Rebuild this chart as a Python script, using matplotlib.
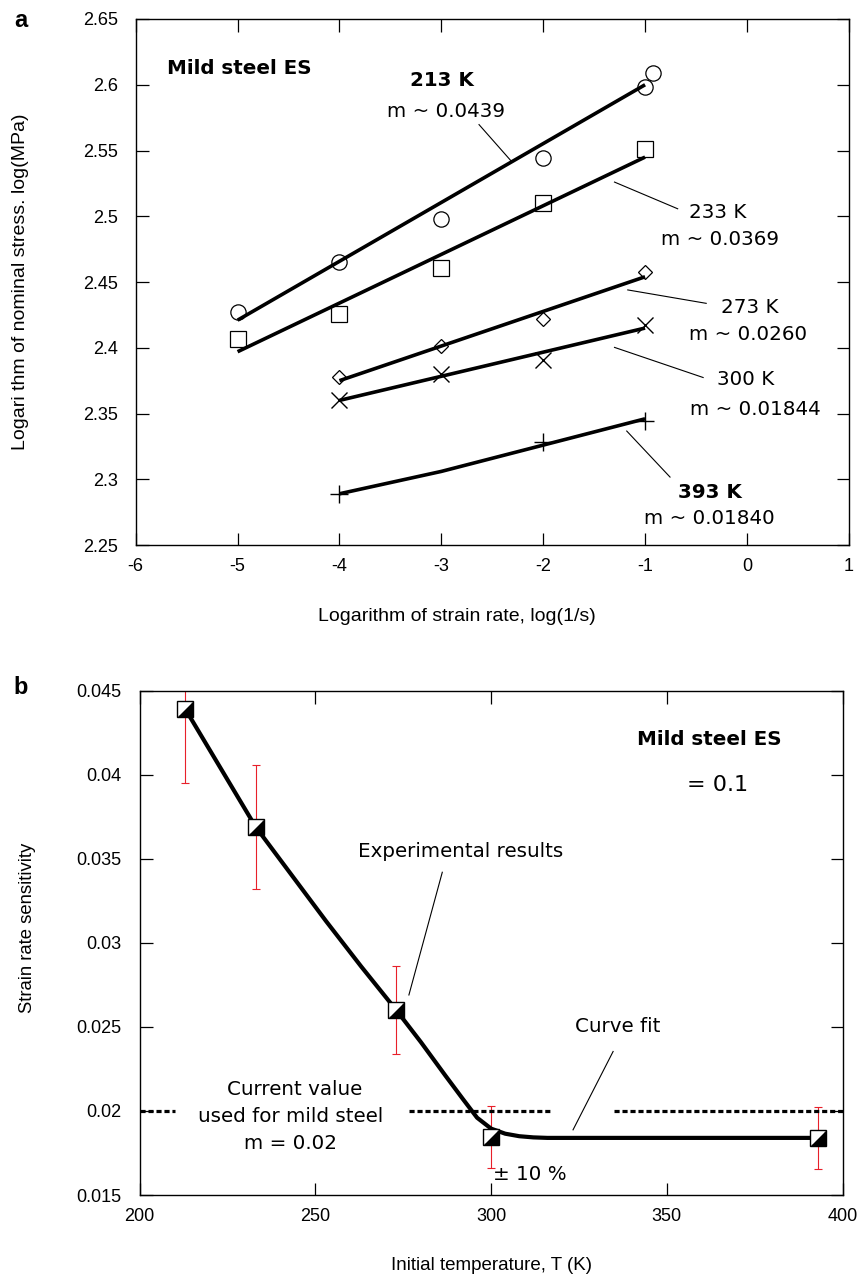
import matplotlib
matplotlib.use("Agg")
from matplotlib import pyplot as plt

plt.rcParams['font.family'] = ['Liberation Sans', 'DejaVu Sans']
plt.rcParams['axes.unicode_minus'] = False
ANN = ['DejaVu Sans']
ANN_SIZE = 14.3

# ---- panel a: log stress vs log strain rate ----
rate_213 = [-5, -4, -3, -2, -1, -0.92]
stress_213 = [2.427, 2.465, 2.498, 2.544, 2.598, 2.609]
rate_233 = [-5, -4, -3, -2, -1]
stress_233 = [2.407, 2.426, 2.461, 2.510, 2.551]
rate_273 = [-4, -3, -2, -1]
stress_273 = [2.378, 2.401, 2.422, 2.458]
rate_300 = [-4, -3, -2, -1]
stress_300 = [2.360, 2.380, 2.391, 2.417]
rate_393 = [-4, -2, -1]
stress_393 = [2.289, 2.328, 2.344]

# fitted lines (end points)
fit_213 = ([-5, -1], [2.421, 2.600])
fit_233 = ([-5, -1], [2.397, 2.545])
fit_273 = ([-4, -1], [2.375, 2.454])
fit_300 = ([-4, -1], [2.360, 2.415])
fit_393 = ([-4, -3, -1], [2.289, 2.306, 2.346])

# ---- panel b: strain rate sensitivity vs temperature ----
temps = [213, 233, 273, 300, 393]
m_vals = [0.0439, 0.0369, 0.0260, 0.01844, 0.0184]
m_err = [0.1 * m for m in m_vals]

curve_T = [213, 223, 233, 243, 253, 263, 273, 280, 287, 292, 296, 300, 304,
           308, 312, 316, 393]
curve_m = [0.0439, 0.0404, 0.0369, 0.0341, 0.0313, 0.0286, 0.0260, 0.0241,
           0.0221, 0.0207, 0.0196, 0.01895, 0.01865, 0.01850, 0.01843,
           0.01840, 0.01840]

current_segments = [(200, 210), (276.5, 317), (335, 400)]
current_value = 0.02

fig = plt.figure(figsize=(8.6, 12.75), dpi=100)

ax1 = fig.add_axes([0.1578, 0.5725, 0.8292, 0.4126])
ax1.plot(rate_213, stress_213, 'o', mfc='white', mec='black', ms=11, mew=0.9)
ax1.plot(rate_233, stress_233, 's', mfc='white', mec='black', ms=11, mew=0.9)
ax1.plot(rate_273, stress_273, 'D', mfc='white', mec='black', ms=7.5, mew=0.9)
ax1.plot(rate_300, stress_300, 'x', color='black', ms=11, mew=1.0)
ax1.plot(rate_393, stress_393, '+', color='black', ms=13, mew=1.0)
for fx, fy in [fit_213, fit_233, fit_273, fit_300, fit_393]:
    ax1.plot(fx, fy, color='black', lw=2.6, solid_capstyle='butt')

ax1.set_xlim(-6, 1)
ax1.set_ylim(2.25, 2.65)
ax1.set_xticks([-6, -5, -4, -3, -2, -1, 0, 1])
ax1.set_yticks([2.25, 2.3, 2.35, 2.4, 2.45, 2.5, 2.55, 2.6, 2.65])
ax1.set_yticklabels(['2.25', '2.3', '2.35', '2.4', '2.45', '2.5', '2.55', '2.6', '2.65'])
ax1.set_xlabel("Logarithm of strain rate, log(1/s)", fontsize=14)
ax1.xaxis.set_label_coords(0.45, -0.12)
ax1.set_ylabel("Logari thm of nominal stress. log(MPa)", fontsize=14)
ax1.yaxis.set_label_coords(-0.15, 0.5)

ax1.text(-5.69, 2.6124, "Mild steel ES", family=ANN, weight='bold',
         fontsize=ANN_SIZE, ha='left', va='center')
ax1.text(-2.99, 2.6035, "213 K", family=ANN, weight='bold', fontsize=ANN_SIZE,
         ha='center', va='center')
ax1.text(-2.95, 2.5793, "m ~ 0.0439", family=ANN, fontsize=ANN_SIZE,
         ha='center', va='center')
ax1.plot([-2.63, -2.32], [2.5697, 2.5425], color='black', lw=0.8)
ax1.text(-0.29, 2.5031, "233 K", family=ANN, fontsize=ANN_SIZE, ha='center', va='center')
ax1.text(-0.265, 2.4821, "m ~ 0.0369", family=ANN, fontsize=ANN_SIZE, ha='center', va='center')
ax1.plot([-1.30, -0.68], [2.526, 2.5057], color='black', lw=0.8)
ax1.text(0.03, 2.4307, "273 K", family=ANN, fontsize=ANN_SIZE, ha='center', va='center')
ax1.text(0.01, 2.4104, "m ~ 0.0260", family=ANN, fontsize=ANN_SIZE, ha='center', va='center')
ax1.plot([-1.17, -0.40], [2.444, 2.4338], color='black', lw=0.8)
ax1.text(-0.01, 2.3761, "300 K", family=ANN, fontsize=ANN_SIZE, ha='center', va='center')
ax1.text(0.08, 2.3533, "m ~ 0.01844", family=ANN, fontsize=ANN_SIZE, ha='center', va='center')
ax1.plot([-1.30, -0.43], [2.4003, 2.3774], color='black', lw=0.8)
ax1.text(-0.36, 2.2901, "393 K", family=ANN, weight='bold', fontsize=ANN_SIZE,
         ha='center', va='center')
ax1.text(-0.37, 2.270, "m ~ 0.01840", family=ANN, fontsize=ANN_SIZE, ha='center', va='center')
ax1.plot([-1.18, -0.755], [2.3367, 2.3017], color='black', lw=0.8)

ax2 = fig.add_axes([0.1624, 0.0627, 0.8174, 0.3956])
ax2.errorbar(temps, m_vals, yerr=m_err, fmt='none', ecolor='#e8202a',
             elinewidth=0.8, capsize=3, capthick=0.8, zorder=1)
ax2.plot(curve_T, curve_m, color='black', lw=3, zorder=2)
for x0, x1 in current_segments:
    ax2.plot([x0, x1], [current_value, current_value], color='black', lw=2.3,
             linestyle=(0, (1.6, 0.9)), dash_capstyle='butt', zorder=2)
ax2.plot(temps, m_vals, 's', mfc='white', mec='black', ms=11.5, mew=1.0, zorder=3)
ax2.plot(temps, m_vals, marker=[(-1, -1), (1, -1), (1, 1)], ls='none',
         color='black', ms=10, zorder=4)

ax2.set_xlim(200, 400)
ax2.set_ylim(0.015, 0.045)
ax2.set_xticks([200, 250, 300, 350, 400])
ax2.set_yticks([0.015, 0.02, 0.025, 0.03, 0.035, 0.04, 0.045])
ax2.set_yticklabels(['0.015', '0.02', '0.025', '0.03', '0.035', '0.04', '0.045'])
ax2.set_xlabel("Initial temperature, T (K)", fontsize=13.5)
ax2.xaxis.set_label_coords(0.5, -0.123)
ax2.set_ylabel("Strain rate sensitivity", fontsize=13.3)
ax2.yaxis.set_label_coords(-0.148, 0.53)

ax2.text(362.2, 0.04211, "Mild steel ES", family=ANN, weight='bold',
         fontsize=ANN_SIZE, ha='center', va='center')
ax2.text(355.6, 0.03939, "= 0.1", family=ANN, fontsize=16, ha='left', va='center')
ax2.text(291.2, 0.03543, "Experimental results", family=ANN, fontsize=ANN_SIZE,
         ha='center', va='center')
ax2.plot([286.1, 276.6], [0.0342, 0.0269], color='black', lw=0.8)
ax2.text(336.1, 0.0250, "Curve fit", family=ANN, fontsize=ANN_SIZE, ha='center', va='center')
ax2.plot([334.7, 323.3], [0.02354, 0.01888], color='black', lw=0.8)
ax2.text(244.0, 0.02126, "Current value", family=ANN, fontsize=ANN_SIZE, ha='center', va='center')
ax2.text(243.0, 0.01967, "used for mild steel", family=ANN, fontsize=ANN_SIZE,
         ha='center', va='center')
ax2.text(243.0, 0.01809, "m = 0.02", family=ANN, fontsize=ANN_SIZE, ha='center', va='center')
ax2.text(311.0, 0.0162, "\u00b1 10 %", family=ANN, fontsize=ANN_SIZE, ha='center', va='center')

for ax in (ax1, ax2):
    ax.tick_params(direction='in', length=9, width=0.9, top=True, right=True,
                   labelsize=13)
    ax.tick_params(axis='x', pad=9)
    ax.tick_params(axis='y', pad=13)
    for sp in ax.spines.values():
        sp.set_linewidth(1.0)

fig.text(0.016, 0.993, "a", fontsize=17, weight='bold', va='top', ha='left')
fig.text(0.016, 0.47, "b", fontsize=17, weight='bold', va='top', ha='left')

fig.savefig("out.png", dpi=100)
